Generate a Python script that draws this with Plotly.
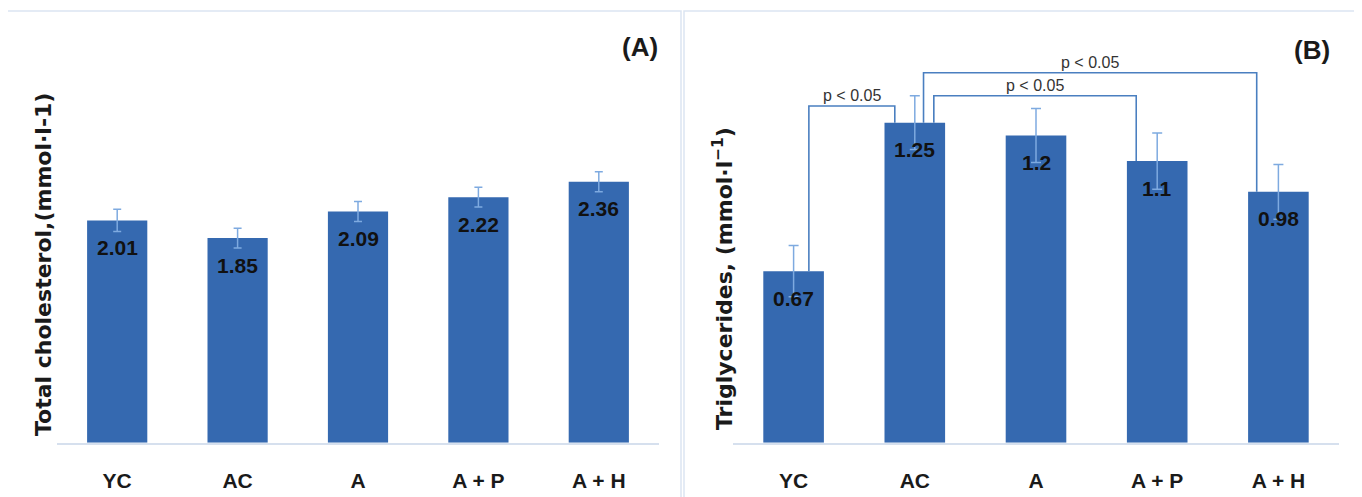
import plotly.graph_objects as go

# ---------------- data ----------------
categories = ["YC", "AC", "A", "A + P", "A + H"]
chol_values = [2.01, 1.85, 2.09, 2.22, 2.36]
chol_errors = [0.10, 0.09, 0.09, 0.09, 0.09]
tg_values = [0.67, 1.25, 1.2, 1.1, 0.98]
tg_errors = [0.10, 0.105, 0.105, 0.11, 0.107]
chol_labels = ["2.01", "1.85", "2.09", "2.22", "2.36"]
tg_labels = ["0.67", "1.25", "1.2", "1.1", "0.98"]
# significance brackets in panel B: (from index, to index, bracket height, text)
bracket_from = [0, 1, 1]
bracket_to = [1, 3, 4]
bracket_level = [1.315, 1.355, 1.445]
bracket_text = ["p < 0.05", "p < 0.05", "p < 0.05"]

# ---------------- style ----------------
OFF = 8                      # default page (body) margin of the html page
W, H = 1362 - OFF, 497 - OFF
BAR_COLOR = "#3569b0"
ERR_COLOR = "#7eaae0"
BRACKET_COLOR = "#4a7fc0"
BORDER_COLOR = "#dbe5f2"
AXIS_COLOR = "#d6e0ee"
SANS = "Liberation Sans, Arial, sans-serif"
WIDE = "DejaVu Sans, Verdana, sans-serif"
bracket_off_from = [0.126, 0.157, 0.072]
bracket_off_to = [-0.165, -0.173, -0.179]


def px(x):
    return (x - OFF) / W


def py(y):
    return 1 - (y - OFF) / H


fig = go.Figure()
fig.add_trace(go.Bar(
    x=categories, y=chol_values, width=0.5, xaxis="x", yaxis="y",
    marker=dict(color=BAR_COLOR, line=dict(width=0)),
    error_y=dict(type="data", array=chol_errors, visible=True,
                 color=ERR_COLOR, thickness=1.5, width=4),
    showlegend=False, hoverinfo="x+y",
))
fig.add_trace(go.Bar(
    x=categories, y=tg_values, width=0.5, xaxis="x2", yaxis="y2",
    marker=dict(color=BAR_COLOR, line=dict(width=0)),
    error_y=dict(type="data", array=tg_errors, visible=True,
                 color=ERR_COLOR, thickness=1.5, width=5),
    showlegend=False, hoverinfo="x+y",
))

BASE = 442.7
TOP = 20
ydom = [py(BASE), py(TOP)]
tickfont = dict(family=SANS, size=21, color="#1a1a1a", weight="bold")
common_x = dict(type="category", range=[-0.5, 4.5], showline=True,
                linecolor=AXIS_COLOR, linewidth=1.5, showgrid=False,
                zeroline=False, ticks="", tickfont=tickfont,
                ticklabelstandoff=18, fixedrange=True)
common_y = dict(showgrid=False, zeroline=False, showticklabels=False,
                ticks="", showline=False, fixedrange=True, domain=ydom)

fig.update_layout(
    width=W, height=H,
    margin=dict(l=0, r=0, t=0, b=0),
    paper_bgcolor="white", plot_bgcolor="white",
    bargap=0.5,
    xaxis=dict(domain=[px(57), px(659)], anchor="y", **common_x),
    yaxis=dict(range=[0, (BASE - TOP) / 110.6], anchor="x", **common_y),
    xaxis2=dict(domain=[px(733), px(1339)], anchor="y2", **common_x),
    yaxis2=dict(range=[0, (BASE - TOP) / 256.0], anchor="x2", **common_y),
)

annotations = []
shapes = []

# data labels inside bars
for xr, yr, vals, labs in [("x", "y", chol_values, chol_labels),
                           ("x2", "y2", tg_values, tg_labels)]:
    for c, v, t in zip(categories, vals, labs):
        annotations.append(dict(
            x=c, y=v, xref=xr, yref=yr, text=t, showarrow=False,
            yshift=-27, yanchor="middle",
            font=dict(family=SANS, size=21, color="#111111", weight="bold")))

# significance brackets
for i0, i1, lvl, txt, o0, o1 in zip(bracket_from, bracket_to, bracket_level,
                                      bracket_text, bracket_off_from, bracket_off_to):
    xa = i0 + o0
    xb = i1 + o1
    ya = tg_values[i0]
    yb = tg_values[i1]
    shapes.append(dict(
        type="path", xref="x2", yref="y2",
        path=f"M {xa},{ya} L {xa},{lvl} L {xb},{lvl} L {xb},{yb}",
        line=dict(color=BRACKET_COLOR, width=1.6)))
    annotations.append(dict(
        x=(xa + xb) / 2, y=lvl, xref="x2", yref="y2", text=txt,
        showarrow=False, yanchor="bottom", yshift=0,
        font=dict(family=SANS, size=16, color="#333333")))

# panel frames
for x0, x1 in [(7, 681), (684, 1357)]:
    shapes.append(dict(type="rect", xref="paper", yref="paper",
                       x0=px(x0), x1=px(x1), y0=-0.05, y1=py(11),
                       line=dict(color=BORDER_COLOR, width=1.5), fillcolor="rgba(0,0,0,0)",
                       layer="below"))

# panel letters
for txt, x, y in [("(A)", 640, 47), ("(B)", 1312, 50)]:
    annotations.append(dict(x=px(x), y=py(y), xref="paper", yref="paper",
                            text=txt, showarrow=False, xanchor="center", yanchor="middle",
                            font=dict(family=SANS, size=26, color="#1a1a1a", weight="bold")))

# y-axis titles
for txt, x, y in [("Total cholesterol,(mmol·l-1)", 43, 265),
                  ("Triglycerides, (mmol·l<sup>−1</sup>)", 723, 279)]:
    annotations.append(dict(x=px(x), y=py(y), xref="paper", yref="paper",
                            text=txt, showarrow=False, textangle=-90,
                            xanchor="center", yanchor="middle",
                            font=dict(family=WIDE, size=22, color="#1a1a1a", weight="bold")))

fig.update_layout(annotations=annotations, shapes=shapes)
fig.write_html("out.html")
